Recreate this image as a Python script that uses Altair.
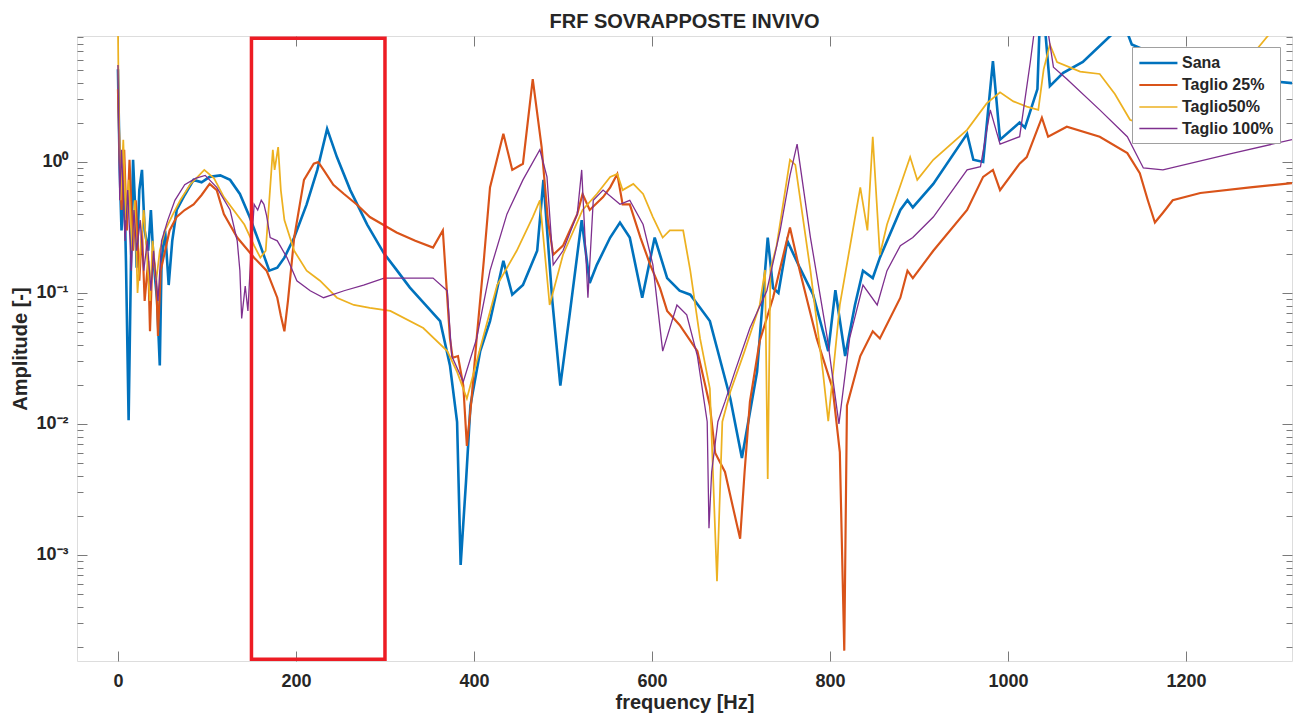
import altair as alt
import pandas as pd

FONT = "Liberation Sans, Arial, Helvetica, sans-serif"
TXT = "#262626"
TICK = "#7a7a7a"

series_names = ["Sana", "Taglio 25%", "Taglio50%", "Taglio 100%"]
series_colors = ["#0072BD", "#D95319", "#EDB120", "#7E2F8E"]
series_widths = [2.6, 1.3, 1.3, 1.3]

sana_f = [0, 2, 4, 7, 9, 12, 15, 17, 19, 21, 24, 27, 30, 34, 37, 40, 44, 47, 49, 53,
          57, 61, 66, 75, 85, 94, 103, 115, 126, 137, 148, 160, 170, 179, 187, 198, 212, 224, 235, 246,
          261, 280, 299, 313, 328, 345, 362, 373, 381, 385, 391, 396, 407, 418, 433, 443, 455, 471, 478, 488,
          497, 508, 521, 530, 538, 553, 564, 575, 589, 603, 617, 631, 643, 654, 665, 673, 688, 701, 718, 730,
          736, 742, 752, 766, 781, 798, 806, 817, 828, 837, 848, 856, 879, 887, 893, 916, 954, 961, 972, 983,
          991, 1013, 1019, 1033, 1036, 1040, 1047, 1062, 1084, 1115, 1131, 1139, 1216, 1319]
sana_a = [5.1, 0.87, 0.30, 0.73, 0.176, 0.0107, 0.25, 1.04, 0.51, 0.156, 0.61, 0.87, 0.30, 0.21, 0.43, 0.176, 0.087, 0.028, 0.176, 0.30,
          0.115, 0.25, 0.43, 0.56, 0.73, 0.70, 0.77, 0.79, 0.73, 0.57, 0.38, 0.23, 0.148, 0.156, 0.186, 0.265, 0.475, 0.87, 1.79, 1.09,
          0.61, 0.333, 0.20, 0.15, 0.11, 0.082, 0.061, 0.028, 0.0104, 0.00084, 0.0036, 0.0138, 0.036, 0.061, 0.176, 0.097, 0.115, 0.21, 0.73, 0.087,
          0.0196, 0.073, 0.36, 0.119, 0.164, 0.265, 0.345, 0.265, 0.092, 0.265, 0.13, 0.104, 0.097, 0.077, 0.061, 0.038, 0.0156, 0.0055, 0.025, 0.265,
          0.109, 0.10, 0.25, 0.156, 0.097, 0.036, 0.105, 0.033, 0.081, 0.148, 0.13, 0.186, 0.43, 0.51, 0.45, 0.68, 1.64, 1.04, 1.0, 5.9,
          1.48, 2.0, 1.83, 3.6, 14, 14, 3.8, 4.8, 5.8, 9.2, 11, 7.9, 4.7, 4.0]

t25_f = [0, 2, 4, 7, 10, 13, 17, 20, 24, 27, 30, 34, 36, 39, 43, 45, 48, 53, 58, 66,
         75, 85, 94, 103, 111, 119, 134, 153, 167, 179, 183, 187, 191, 198, 209, 220, 225, 231, 242, 254,
         269, 283, 313, 334, 354, 365, 373, 376, 382, 388, 392, 397, 403, 411, 418, 433, 443, 455, 466, 476,
         483, 489, 500, 516, 522, 530, 545, 553, 561, 567, 575, 587, 598, 609, 617, 631, 651, 665, 671, 682,
         691, 699, 704, 710, 721, 736, 755, 766, 785, 803, 811, 816, 819, 834, 848, 856, 879, 887, 893, 916,
         954, 972, 983, 991, 1013, 1021, 1038, 1045, 1066, 1103, 1134, 1148, 1157, 1165, 1174, 1185, 1216, 1272, 1319]
t25_a = [3.6, 1.04, 0.43, 1.24, 0.30, 1.04, 0.21, 0.51, 0.124, 0.30, 0.087, 0.176, 0.051, 0.21, 0.124, 0.047, 0.148, 0.21, 0.30, 0.38,
         0.43, 0.475, 0.56, 0.68, 0.61, 0.40, 0.265, 0.186, 0.148, 0.092, 0.067, 0.051, 0.087, 0.265, 0.73, 0.97, 1.0, 0.87, 0.67, 0.57,
         0.47, 0.38, 0.29, 0.25, 0.222, 0.30, 0.045, 0.032, 0.033, 0.0196, 0.0068, 0.0148, 0.045, 0.176, 0.64, 1.64, 0.87, 0.97, 4.3, 1.30,
         0.36, 0.196, 0.23, 0.40, 0.57, 0.43, 0.54, 0.64, 0.81, 0.475, 0.475, 0.265, 0.164, 0.109, 0.073, 0.057, 0.036, 0.0138, 0.006, 0.0043,
         0.0023, 0.00133, 0.0043, 0.0148, 0.043, 0.092, 0.316, 0.148, 0.045, 0.0186, 0.0061, 0.000186, 0.0138, 0.033, 0.051, 0.045, 0.092, 0.148, 0.13, 0.21,
         0.43, 0.77, 0.87, 0.61, 0.97, 1.09, 2.18, 1.56, 1.86, 1.56, 1.17, 0.82, 0.51, 0.345, 0.41, 0.51, 0.58, 0.64, 0.69]

t50_f = [0, 1, 3, 6, 9, 12, 16, 19, 22, 26, 29, 33, 36, 39, 43, 47, 53, 61, 70, 81,
         97, 108, 119, 142, 153, 160, 166, 172, 174, 176, 180, 183, 187, 198, 212, 227, 246, 265, 283, 306,
         343, 370, 381, 392, 403, 426, 448, 466, 474, 485, 500, 522, 538, 553, 561, 567, 579, 590, 601, 612,
         620, 635, 643, 654, 665, 673, 679, 688, 704, 721, 727, 730, 733, 740, 755, 761, 778, 792, 798, 811,
         834, 842, 848, 856, 864, 890, 898, 916, 954, 976, 991, 1006, 1021, 1034, 1040, 1047, 1055, 1081, 1103, 1120,
         1137, 1182, 1238, 1292, 1319]
t50_a = [10.4, 2.5, 0.51, 1.48, 0.36, 0.73, 0.21, 0.51, 0.10, 0.25, 0.43, 0.176, 0.087, 0.25, 0.124, 0.21, 0.30, 0.39, 0.51, 0.67,
         0.87, 0.75, 0.54, 0.333, 0.23, 0.186, 0.21, 0.79, 1.24, 0.87, 1.30, 0.61, 0.36, 0.21, 0.148, 0.124, 0.092, 0.081, 0.077, 0.073,
         0.054, 0.036, 0.025, 0.0156, 0.030, 0.115, 0.21, 0.38, 0.51, 0.081, 0.196, 0.43, 0.57, 0.77, 0.81, 0.61, 0.68, 0.57, 0.38, 0.265,
         0.30, 0.30, 0.148, 0.045, 0.0186, 0.00063, 0.0104, 0.0176, 0.036, 0.081, 0.15, 0.0038, 0.15, 0.23, 1.04, 0.95, 0.148, 0.025, 0.0105, 0.081,
         0.64, 0.30, 1.56, 0.196, 0.333, 1.09, 0.73, 1.04, 1.76, 2.8, 3.4, 2.9, 2.65, 2.5, 5.1, 7.9, 5.8, 4.9, 4.7, 3.3,
         2.1, 1.6, 3.3, 9.2, 13]

t100_f = [0, 2, 4, 8, 11, 15, 18, 21, 25, 29, 33, 37, 40, 45, 49, 56, 64, 75, 87, 98,
          111, 126, 134, 137, 139, 143, 146, 149, 153, 157, 161, 164, 167, 171, 179, 190, 201, 216, 231, 254,
          276, 299, 328, 354, 370, 375, 388, 403, 418, 437, 455, 474, 482, 489, 500, 516, 521, 528, 534, 545,
          564, 575, 590, 601, 612, 628, 639, 651, 662, 664, 667, 674, 682, 693, 710, 729, 744, 755, 763, 778,
          797, 810, 822, 837, 853, 864, 879, 893, 916, 954, 969, 980, 991, 1013, 1025, 1031, 1043, 1051, 1066, 1103,
          1134, 1152, 1174, 1253, 1319]
t100_a = [5.5, 0.51, 1.24, 0.25, 0.61, 0.148, 0.43, 0.21, 0.36, 0.148, 0.25, 0.104, 0.21, 0.087, 0.25, 0.36, 0.51, 0.67, 0.75, 0.79,
          0.64, 0.43, 0.25, 0.148, 0.064, 0.113, 0.073, 0.176, 0.475, 0.43, 0.51, 0.475, 0.39, 0.265, 0.25, 0.186, 0.124, 0.104, 0.092, 0.104,
          0.115, 0.13, 0.13, 0.13, 0.104, 0.033, 0.021, 0.045, 0.148, 0.40, 0.73, 1.24, 0.77, 0.164, 0.21, 0.40, 0.87, 0.092, 0.51, 0.61,
          0.475, 0.51, 0.333, 0.164, 0.036, 0.081, 0.068, 0.033, 0.0104, 0.0016, 0.0043, 0.0104, 0.0148, 0.025, 0.054, 0.104, 0.30, 0.79, 1.37, 0.265,
          0.045, 0.010, 0.045, 0.115, 0.081, 0.148, 0.23, 0.265, 0.38, 0.87, 0.92, 2.5, 1.37, 1.56, 5.8, 12, 12, 5.3, 4.3, 2.5,
          1.56, 0.90, 0.87, 1.17, 1.48]

# highlighted frequency band (red box)
box_f = [150, 300]
box_a = [1.6e-4, 8.8]

x_ticks = [0, 200, 400, 600, 800, 1000, 1200]
y_major = [0.001, 0.01, 0.1, 1]
y_minor = [2e-4, 3e-4, 4e-4, 5e-4, 6e-4, 7e-4, 8e-4, 9e-4,
           2e-3, 3e-3, 4e-3, 5e-3, 6e-3, 7e-3, 8e-3, 9e-3,
           2e-2, 3e-2, 4e-2, 5e-2, 6e-2, 7e-2, 8e-2, 9e-2,
           0.2, 0.3, 0.4, 0.5, 0.6, 0.7, 0.8, 0.9,
           2, 3, 4, 5, 6, 7, 8, 9]
x_domain = [-46, 1319]
y_domain = [1.55e-4, 9.16]

rows = []
for name, fs, amps in zip(series_names, [sana_f, t25_f, t50_f, t100_f], [sana_a, t25_a, t50_a, t100_a]):
    for f, a in zip(fs, amps):
        rows.append({"series": name, "f": f, "a": a})
df = pd.DataFrame(rows)
box_df = pd.DataFrame({"x0": [box_f[0]], "x1": [box_f[1]], "y0": [box_a[0]], "y1": [box_a[1]]})

W, H = 1215, 625
xs = alt.Scale(domain=x_domain, nice=False, zero=False)
ys = alt.Scale(type="log", domain=y_domain, nice=False)

label_expr = ("round(log(datum.value)/LN10) == 0 ? '10\u2070' : "
              "round(log(datum.value)/LN10) == -1 ? '10\u207b\u00b9' : "
              "round(log(datum.value)/LN10) == -2 ? '10\u207b\u00b2' : '10\u207b\u00b3'")

leg = alt.Legend(orient="none", legendX=1055, legendY=11, title=None,
                 fillColor="white", strokeColor="#a0a0a0", padding=6,
                 labelFont=FONT, labelFontSize=16, labelFontWeight="bold", labelColor=TXT,
                 symbolType="M-1,0H3.4", symbolSize=300, labelOffset=24, rowPadding=4)

lines = alt.Chart(df).mark_line(clip=True).encode(
    x=alt.X("f:Q", scale=xs, axis=alt.Axis(
        values=x_ticks, format="d", title="frequency [Hz]", titleFont=FONT, titleFontSize=20,
        titleFontWeight="bold", titleColor=TXT, titleY=51, titleBaseline="middle",
        labelFont=FONT, labelFontSize=18, labelFontWeight="bold", labelColor=TXT,
        labelPadding=11, tickSize=10, tickColor=TICK, offset=-10, domain=False, grid=False,
        labelFlush=False, labelOverlap=False, orient="bottom")),
    y=alt.Y("a:Q", scale=ys, axis=alt.Axis(
        values=y_major, labelExpr=label_expr, title="Amplitude [-]", titleFont=FONT,
        titleFontSize=20, titleFontWeight="bold", titleColor=TXT, titleX=-67, titleY=H / 2,
        titleBaseline="middle", titleAlign="center",
        labelFont=FONT, labelFontSize=18, labelFontWeight="bold", labelColor=TXT,
        labelPadding=9, tickSize=10, tickColor=TICK, offset=-10, domain=False, grid=False,
        labelFlush=False, labelOverlap=False, orient="left")),
    color=alt.Color("series:N", scale=alt.Scale(domain=series_names, range=series_colors), legend=leg),
    strokeWidth=alt.StrokeWidth("series:N", scale=alt.Scale(domain=series_names, range=series_widths), legend=leg),
    order=alt.Order("f:Q"),
)

box = alt.Chart(box_df).mark_rect(fillOpacity=0, stroke="#ED1C24", strokeWidth=3.5).encode(
    x=alt.X("x0:Q", scale=xs, axis=alt.Axis(values=x_ticks, labels=False, title=None, tickSize=10,
                                             tickColor=TICK, offset=-10, domain=False, grid=False, orient="top")),
    x2="x1:Q",
    y=alt.Y("y0:Q", scale=ys, axis=alt.Axis(values=y_minor, labels=False, title=None, tickSize=6,
                                             tickColor=TICK, offset=-6, domain=False, grid=False, orient="left")),
    y2="y1:Q",
)

aux1 = alt.Chart(box_df).mark_point(opacity=0).encode(
    x=alt.X("x0:Q", scale=xs, axis=None),
    y=alt.Y("y0:Q", scale=ys, axis=alt.Axis(values=y_major, labels=False, title=None, tickSize=10,
                                             tickColor=TICK, offset=-10, domain=False, grid=False, orient="right")),
)
aux2 = alt.Chart(box_df).mark_point(opacity=0).encode(
    x=alt.X("x0:Q", scale=xs, axis=None),
    y=alt.Y("y0:Q", scale=ys, axis=alt.Axis(values=y_minor, labels=False, title=None, tickSize=6,
                                             tickColor=TICK, offset=-6, domain=False, grid=False, orient="right")),
)

chart = alt.layer(lines, box, aux1, aux2).resolve_axis(x="independent", y="independent").properties(
    width=W, height=H,
    title=alt.TitleParams("FRF SOVRAPPOSTE INVIVO", font=FONT, fontSize=20, fontWeight="bold",
                          color=TXT, anchor="middle", baseline="alphabetic", offset=8, dy=20),
    padding={"left": 77, "top": 36, "right": 4, "bottom": 61},
    autosize=alt.AutoSizeParams(type="none"),
).configure_view(stroke="#9a9a9a", strokeWidth=1).configure(background="white")

chart.save("out.html", embed_options={"renderer": "svg", "actions": False})
